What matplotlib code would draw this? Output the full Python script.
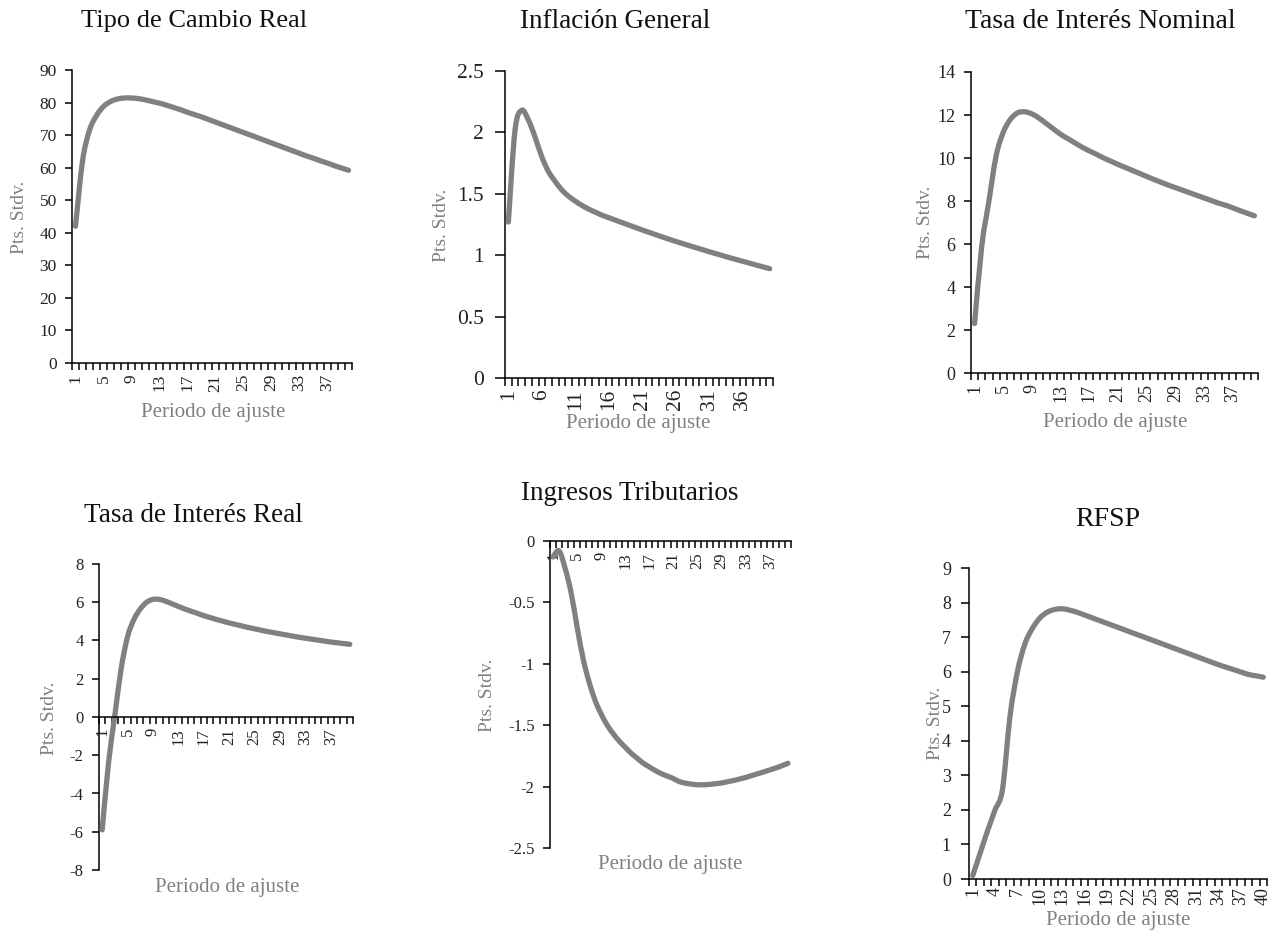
# -*- coding: utf-8 -*-
import numpy as np
import matplotlib
matplotlib.use('Agg')
import matplotlib.pyplot as plt
from matplotlib.path import Path
from matplotlib.patches import PathPatch

plt.rcParams['font.family'] = ['Liberation Serif', 'DejaVu Serif']

#------------------------------------------------------------------------------
# data
periodos = list(range(1, 41))

tipo_cambio_real = [42, 62, 71.5, 76, 78.8, 80.3, 81.1, 81.4, 81.4, 81.2,
                    80.8, 80.3, 79.8, 79.2, 78.5, 77.8, 77.0, 76.3, 75.6, 74.8,
                    74.0, 73.2, 72.4, 71.6, 70.8, 70.0, 69.2, 68.4, 67.6, 66.8,
                    66.0, 65.2, 64.4, 63.6, 62.9, 62.1, 61.4, 60.6, 59.9, 59.2]

inflacion_general = [1.27, 2.02, 2.18, 2.1, 1.96, 1.8, 1.68, 1.6, 1.53, 1.48,
                     1.44, 1.405, 1.375, 1.35, 1.325, 1.305, 1.285, 1.265, 1.245, 1.225,
                     1.205, 1.186, 1.167, 1.148, 1.13, 1.112, 1.095, 1.078, 1.061, 1.045,
                     1.028, 1.012, 0.996, 0.98, 0.965, 0.95, 0.935, 0.92, 0.905, 0.89]

tasa_nominal = [2.3, 5.9, 8.0, 10.1, 11.2, 11.8, 12.1, 12.15, 12.05, 11.85,
                11.6, 11.35, 11.1, 10.9, 10.7, 10.5, 10.33, 10.17, 10.0, 9.85,
                9.7, 9.56, 9.42, 9.28, 9.14, 9.0, 8.87, 8.74, 8.62, 8.5,
                8.38, 8.26, 8.14, 8.02, 7.9, 7.8, 7.68, 7.55, 7.43, 7.31]

tasa_real = [-5.9, -2.4, 0.1, 2.55, 4.2, 5.1, 5.65, 6.0, 6.15, 6.15,
             6.05, 5.92, 5.78, 5.65, 5.53, 5.42, 5.3, 5.2, 5.1, 5.01,
             4.92, 4.84, 4.76, 4.68, 4.61, 4.54, 4.47, 4.41, 4.35, 4.29,
             4.23, 4.17, 4.12, 4.07, 4.02, 3.97, 3.92, 3.88, 3.84, 3.8]

ingresos_tributarios = [-0.13, -0.08, -0.22, -0.42, -0.7, -0.96, -1.15, -1.3, -1.41, -1.5,
                        -1.57, -1.63, -1.68, -1.73, -1.77, -1.81, -1.84, -1.87, -1.895, -1.915,
                        -1.935, -1.96, -1.972, -1.98, -1.985, -1.985, -1.982, -1.977, -1.97, -1.96,
                        -1.95, -1.938, -1.925, -1.91, -1.895, -1.88, -1.864, -1.848, -1.83, -1.81]

rfsp = [0.1, 0.75, 1.4, 2.0, 2.6, 4.7, 6.0, 6.8, 7.25, 7.55,
        7.72, 7.8, 7.82, 7.78, 7.72, 7.64, 7.56, 7.48, 7.4, 7.32,
        7.24, 7.16, 7.08, 7.0, 6.92, 6.84, 6.76, 6.68, 6.6, 6.52,
        6.44, 6.36, 6.28, 6.2, 6.13, 6.06, 5.99, 5.92, 5.88, 5.84]

titulos = ['Tipo de Cambio Real', 'Inflación General', 'Tasa de Interés Nominal',
           'Tasa de Interés Real', 'Ingresos Tributarios', 'RFSP']

W, H = 1274, 930
GRIS = '#808080'

#------------------------------------------------------------------------------
def ax_px(left, top, right, bottom):
    return fig.add_axes([left / W, 1 - bottom / H, (right - left) / W, (bottom - top) / H])
#------------------------------------------------------------------------------
def txt(x, y, s, **kw):
    fig.text(x / W, 1 - y / H, s, ha='center', va='center', **kw)
#------------------------------------------------------------------------------
def linea_suave(ax, xs, ys):
    # smoothed line through the points (like the spreadsheet "smoothed line")
    p = np.column_stack([xs, ys]).astype(float)
    p = np.vstack([p[0], p, p[-1]])
    verts = [p[1]]
    codes = [Path.MOVETO]
    for i in range(1, len(p) - 2):
        c1 = p[i] + (p[i + 1] - p[i - 1]) / 6.0
        c2 = p[i + 1] - (p[i + 2] - p[i]) / 6.0
        verts += [c1, c2, p[i + 1]]
        codes += [Path.CURVE4] * 3
    patch = PathPatch(Path(verts, codes), fill=False, edgecolor=GRIS, lw=3.8,
                      capstyle='round', joinstyle='round', zorder=3)
    ax.add_patch(patch)
#------------------------------------------------------------------------------
def panel(ax, serie, ylim, ystep, xstep, fs, zero_axis=False):
    linea_suave(ax, periodos, serie)
    ax.set_xlim(0.5, 40.5)
    ax.set_ylim(*ylim)
    for s in ['top', 'right']:
        ax.spines[s].set_visible(False)
    ax.spines['left'].set_linewidth(1.1)
    ax.spines['bottom'].set_linewidth(1.1)
    if zero_axis:
        ax.spines['bottom'].set_position(('data', 0))
        ax.spines['bottom'].set_zorder(4)
    yt = np.arange(ylim[0], ylim[1] + ystep / 2, ystep)
    ax.set_yticks(yt)
    ax.set_yticklabels(['{:g}'.format(round(v, 2)) for v in yt])
    ax.set_xticks(np.arange(0.5, 41, 1), minor=True)
    ax.set_xticks(periodos[::xstep])
    ax.set_xticklabels([str(p) for p in periodos[::xstep]])
    ax.tick_params(axis='x', which='minor', length=5, width=1.1, direction='out')
    ax.tick_params(axis='x', which='major', length=0, pad=8, rotation=90,
                   labelsize=fs, labelcolor='#222222')
    ax.tick_params(axis='y', length=5, width=1.1, pad=6, labelsize=fs,
                   labelcolor='#222222')
    ax.patch.set_alpha(0)

#------------------------------------------------------------------------------
fig = plt.figure(figsize=(W / 100, H / 100), dpi=100)

a1 = ax_px(72, 70, 352, 363)
panel(a1, tipo_cambio_real, (0, 90), 10, 4, 12.5)

a2 = ax_px(505, 71, 773, 378)
panel(a2, inflacion_general, (0, 2.5), 0.5, 5, 15.5)
a2.tick_params(axis='y', length=7, pad=8)
a2.tick_params(axis='x', which='minor', length=6)

a3 = ax_px(971, 72, 1258, 373)
panel(a3, tasa_nominal, (0, 14), 2, 4, 13)

a4 = ax_px(99, 564, 353, 870)
panel(a4, tasa_real, (-8, 8), 2, 4, 12, zero_axis=True)

a5 = ax_px(550, 541, 791, 848)
panel(a5, ingresos_tributarios, (-2.5, 0), 0.5, 4, 12, zero_axis=True)

a6 = ax_px(969, 568, 1267, 879)
panel(a6, rfsp, (0, 9), 1, 3, 13)
a6.tick_params(axis='y', length=6, pad=7)
a6.tick_params(axis='x', pad=6)

# titulos
tpos = [(194, 21), (615, 21), (1100, 22), (193, 515), (630, 493), (1108, 519)]
tsize = [19, 19.5, 20, 19.5, 19.5, 20]
for (x, y), t, fs in zip(tpos, titulos, tsize):
    txt(x, y, t, fontsize=fs, color='#111111')

# etiquetas de ejes
ypos = [(20, 217), (442, 225), (926, 222), (50, 718), (487, 695), (936, 723)]
for x, y in ypos:
    txt(x, y, 'Pts. Stdv.', fontsize=14, color=GRIS, rotation=90)

xpos = [(213, 412), (638, 423), (1115, 422), (227, 887), (670, 865), (1118, 920)]
for x, y in xpos:
    txt(x, y, 'Periodo de ajuste', fontsize=15, color=GRIS)

fig.savefig('out.png', dpi=100)
